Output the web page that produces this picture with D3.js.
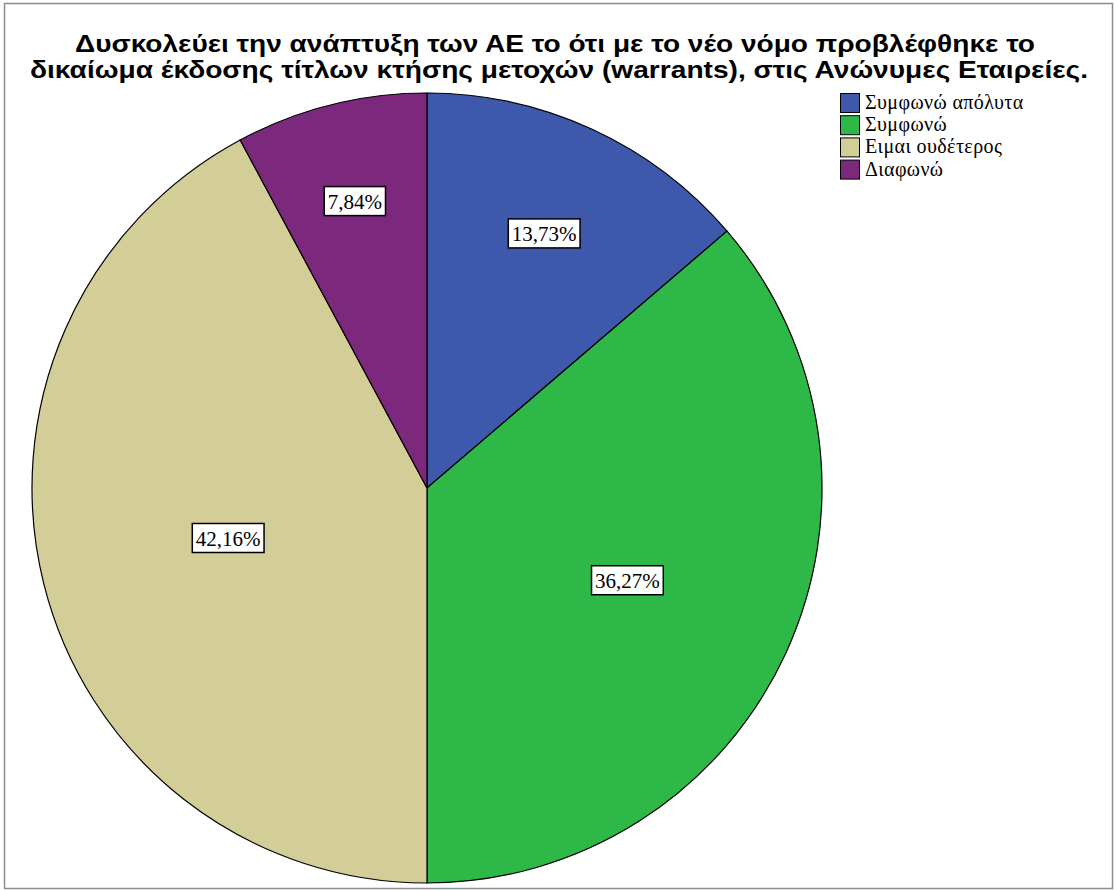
<!DOCTYPE html>
<html><head><meta charset="utf-8">
<script src="https://cdn.jsdelivr.net/npm/d3@7"></script>
<style>body{margin:0;background:#fff}svg{display:block}</style>
</head><body>
<script>
const titleLines = ["Δυσκολεύει την ανάπτυξη των ΑΕ το ότι με το νέο νόμο προβλέφθηκε το",
  "δικαίωμα έκδοσης τίτλων κτήσης μετοχών (warrants), στις Ανώνυμες Εταιρείες."];
const categories = ["Συμφωνώ απόλυτα", "Συμφωνώ", "Ειμαι ουδέτερος", "Διαφωνώ"];
const values = [13.73, 36.27, 42.16, 7.84];
const colors = ["#3E58AC", "#2EB848", "#D3CE97", "#7C287D"];

const W = 1114, H = 890;
const svg = d3.select("body").append("svg").attr("width", W).attr("height", H);
svg.append("rect").attr("x", 4.5).attr("y", 3.5).attr("width", 1108).attr("height", 885)
  .attr("fill", "#fff").attr("stroke", "#8c8c8c").attr("stroke-width", 1.5);

// title lines: [center x, baseline y, target width]
const titleLayout = [[555, 52, 960], [559, 78, 1058]];
titleLines.forEach((t, i) => {
  svg.append("text").attr("text-anchor", "middle")
    .attr("font-family", "Liberation Sans, Arial, sans-serif").attr("font-weight", "bold")
    .attr("font-size", 24.5).attr("fill", "#000")
    .attr("x", titleLayout[i][0]).attr("y", titleLayout[i][1])
    .attr("textLength", titleLayout[i][2]).attr("lengthAdjust", "spacingAndGlyphs")
    .text(t);
});

const cx = 427, cy = 488, R = 395;
const pie = d3.pie().sort(null).value(d => d);
const arcs = pie(values);
const arc = d3.arc().innerRadius(0).outerRadius(R);
const g = svg.append("g").attr("transform", `translate(${cx},${cy})`);
g.selectAll("path").data(arcs).join("path")
  .attr("d", arc).attr("fill", (d, i) => colors[i])
  .attr("stroke", "#000").attr("stroke-width", 1.2);

const total = d3.sum(values);
arcs.forEach((d, i) => {
  const f = values[i] / total;
  const rr = R * (0.5 + 0.67 * Math.max(0, 0.45 - f));
  const a = (d.startAngle + d.endAngle) / 2;
  const x = rr * Math.sin(a), y = -rr * Math.cos(a);
  const label = d3.format(".2f")(values[i]).replace(".", ",") + "%";
  const lg = g.append("g").attr("transform", `translate(${x},${y})`);
  const t = lg.append("text").attr("text-anchor", "middle").attr("dy", "0.36em")
    .attr("font-family", "Liberation Serif, Times New Roman, serif").attr("font-size", 21)
    .attr("fill", "#000").text(label);
  const bb = t.node().getBBox();
  lg.insert("rect", "text").attr("x", bb.x - 3.5).attr("y", -14.5).attr("width", bb.width + 7).attr("height", 29)
    .attr("fill", "#fff").attr("stroke", "#000").attr("stroke-width", 1.5);
});

const leg = svg.append("g").attr("transform", "translate(840,93)");
categories.forEach((c, i) => {
  const row = leg.append("g").attr("transform", `translate(0,${i * 22.2})`);
  row.append("rect").attr("x", 0.5).attr("y", 0.5).attr("width", 19).attr("height", 19)
    .attr("fill", colors[i]).attr("stroke", "#000").attr("stroke-width", 1);
  row.append("text").attr("x", 25).attr("y", 16)
    .attr("font-family", "Liberation Serif, Times New Roman, serif").attr("font-size", 20)
    .attr("letter-spacing", 0.4)
    .attr("fill", "#000").text(c);
});
</script>
</body></html>
